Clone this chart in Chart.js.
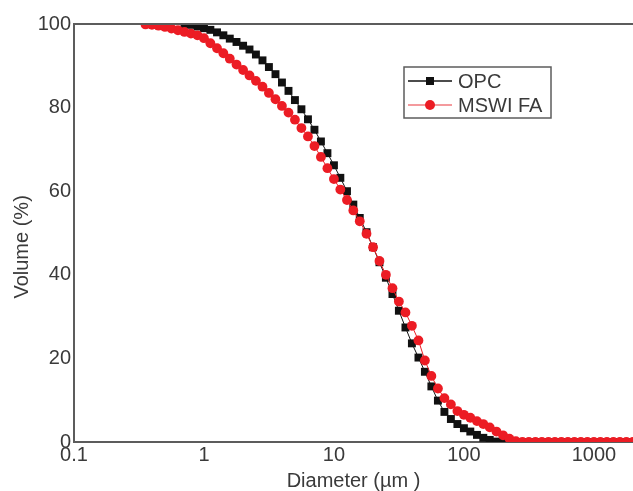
<!DOCTYPE html>
<html>
<head>
<meta charset="utf-8">
<script src="https://cdn.jsdelivr.net/npm/chart.js@4/dist/chart.umd.min.js"></script>
<style>
  html, body { margin: 0; padding: 0; background: #ffffff; }
  #wrap { width: 633px; height: 491px; position: relative; }
</style>
</head>
<body>
<div id="wrap"><canvas id="c" width="633" height="491"></canvas></div>
<script>
// ---- data ----
const diameters = [
  0.355, 0.398, 0.447, 0.501, 0.562, 0.631, 0.708, 0.794, 0.891,
  1.00, 1.12, 1.26, 1.41, 1.58, 1.78, 2.00, 2.24, 2.51, 2.82,
  3.16, 3.55, 3.98, 4.47, 5.01, 5.62, 6.31, 7.08, 7.94, 8.91,
  10.0, 11.2, 12.6, 14.1, 15.8, 17.8, 20.0, 22.4, 25.1, 28.2,
  31.6, 35.5, 39.8, 44.7, 50.1, 56.2, 63.1, 70.8, 79.4, 89.1,
  100, 112, 126, 141, 158, 178, 200, 224, 251, 282,
  316, 355, 398, 447, 501, 562, 631, 708, 794, 891,
  1000, 1122, 1259, 1413, 1585, 1778, 1995
];
const opcVolume = [
  null, null, null, null, null, null, 100, 99.8, 99.4,
  99.0, 98.6, 98.0, 97.3, 96.5, 95.7, 94.8, 93.9, 92.7, 91.3,
  89.7, 88.0, 86.0, 84.0, 81.8, 79.6, 77.2, 74.7, 71.9, 69.1,
  66.2, 63.2, 60.0, 56.8, 53.6, 50.2, 46.6, 43.0, 39.3, 35.4,
  31.4, 27.4, 23.6, 20.2, 16.8, 13.3, 9.9, 7.2, 5.5, 4.3,
  3.3, 2.5, 1.7, 1.0, 0.5, 0.1, 0, 0, 0, 0,
  0, 0, 0, 0, 0, 0, 0, 0, 0, 0,
  0, 0, 0, 0, 0, 0, 0
];
const mswiVolume = [
  99.9, 99.8, 99.6, 99.3, 98.9, 98.5, 98.1, 97.7, 97.3,
  96.6, 95.4, 94.2, 93.0, 91.7, 90.3, 89.0, 87.7, 86.4, 85.0,
  83.5, 82.0, 80.4, 78.8, 77.1, 75.1, 73.1, 70.8, 68.2, 65.5,
  62.9, 60.4, 57.9, 55.4, 52.8, 49.8, 46.6, 43.3, 40.0, 36.8,
  33.6, 31.0, 27.8, 24.3, 19.5, 15.8, 12.8, 10.5, 9.0, 7.4,
  6.5, 5.8, 5.0, 4.3, 3.5, 2.5, 1.6, 0.8, 0.2, 0,
  0, 0, 0, 0, 0, 0, 0, 0, 0, 0,
  0, 0, 0, 0, 0, 0, 0
];
const xTickValues = [0.1, 1, 10, 100, 1000];
const xTickLabels = ["0.1", "1", "10", "100", "1000"];
const yTickValues = [0, 20, 40, 60, 80, 100];
const seriesNames = ["OPC", "MSWI FA"];

// ---- styling ----
const FONT = "'Liberation Sans', Arial, sans-serif";
const TEXT = "#3a3a3a";
const AXIS = "#5c5c5c";
const BLACK = "#111111";
const RED = "#ec1c24";

const topLine = {
  id: 'topLine',
  afterDraw(chart) {
    const {ctx, chartArea: a} = chart;
    ctx.save();
    ctx.strokeStyle = AXIS;
    ctx.lineWidth = 2;
    ctx.beginPath();
    ctx.moveTo(a.left - 1, a.top);
    ctx.lineTo(chart.width, a.top);
    ctx.stroke();
    ctx.restore();
  }
};

const boxLegend = {
  id: 'boxLegend',
  afterDraw(chart) {
    const ctx = chart.ctx;
    const x0 = 404, y0 = 67, w = 147, h = 51;
    ctx.save();
    ctx.strokeStyle = AXIS;
    ctx.lineWidth = 1.5;
    ctx.strokeRect(x0, y0, w, h);
    const rows = [
      {y: 81, ds: chart.data.datasets[0]},
      {y: 105, ds: chart.data.datasets[1]}
    ];
    rows.forEach((r, i) => {
      ctx.strokeStyle = i === 0 ? BLACK : '#f0787c';
      ctx.lineWidth = 1.5;
      ctx.beginPath();
      ctx.moveTo(408, r.y);
      ctx.lineTo(452, r.y);
      ctx.stroke();
      ctx.fillStyle = r.ds.pointBackgroundColor;
      if (i === 0) {
        ctx.fillRect(426, r.y - 4, 8, 8);
      } else {
        ctx.beginPath();
        ctx.arc(430, r.y, 5, 0, Math.PI * 2);
        ctx.fill();
      }
      ctx.fillStyle = TEXT;
      ctx.font = "20px " + FONT;
      ctx.textBaseline = 'middle';
      ctx.textAlign = 'left';
      ctx.fillText(r.ds.label, 458, r.y + 1);
    });
    ctx.restore();
  }
};

new Chart(document.getElementById('c'), {
  type: 'line',
  data: {
    datasets: [
      {
        label: seriesNames[0],
        data: diameters.map((d, i) => ({x: d, y: opcVolume[i]})),
        borderColor: BLACK,
        borderWidth: 1,
        backgroundColor: BLACK,
        pointStyle: 'rect',
        pointRadius: 5.6,
        pointBackgroundColor: BLACK,
        pointBorderColor: BLACK,
        pointBorderWidth: 0,
        order: 2,
        tension: 0
      },
      {
        label: seriesNames[1],
        data: diameters.map((d, i) => ({x: d, y: mswiVolume[i]})),
        borderColor: RED,
        borderWidth: 1,
        backgroundColor: RED,
        pointStyle: 'circle',
        pointRadius: 4.9,
        pointBackgroundColor: RED,
        pointBorderColor: RED,
        pointBorderWidth: 0,
        order: 1,
        tension: 0
      }
    ]
  },
  options: {
    responsive: false,
    animation: false,
    devicePixelRatio: 1,
    layout: { autoPadding: false, padding: { top: 24, right: 0, bottom: 0, left: 0 } },
    plugins: {
      legend: { display: false },
      tooltip: { enabled: false }
    },
    scales: {
      x: {
        type: 'logarithmic',
        min: 0.1,
        max: 2000,
        grid: { display: false, drawTicks: false },
        border: { display: true, color: AXIS, width: 2 },
        afterBuildTicks(scale) {
          scale.ticks = xTickValues.map(v => ({value: v}));
        },
        afterFit(scale) {
          scale.height = 49;
          scale.paddingLeft = 0;
          scale.paddingRight = 0;
        },
        ticks: {
          autoSkip: false,
          maxRotation: 0,
          padding: 1,
          color: TEXT,
          font: { family: FONT, size: 20 },
          callback(value) {
            const i = xTickValues.indexOf(value);
            return i >= 0 ? xTickLabels[i] : '';
          }
        },
        title: {
          display: true,
          text: 'Diameter (µm )',
          color: TEXT,
          font: { family: FONT, size: 20, lineHeight: 1 },
          padding: { top: 0, bottom: 0 }
        }
      },
      y: {
        type: 'linear',
        min: 0,
        max: 100,
        grid: { display: false, drawTicks: false },
        border: { display: true, color: AXIS, width: 2 },
        afterBuildTicks(scale) {
          scale.ticks = yTickValues.map(v => ({value: v}));
        },
        afterFit(scale) { scale.width = 74; },
        ticks: {
          padding: 3,
          color: TEXT,
          font: { family: FONT, size: 20 }
        },
        title: {
          display: true,
          text: 'Volume (%)     ',
          color: TEXT,
          font: { family: FONT, size: 20, lineHeight: 1 },
          padding: { top: 12, bottom: 0 }
        }
      }
    }
  },
  plugins: [topLine, boxLegend]
});
</script>
</body>
</html>
